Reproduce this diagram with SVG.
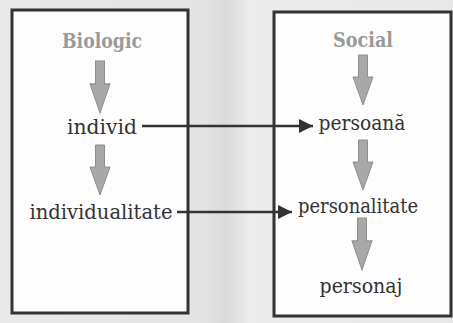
<svg xmlns="http://www.w3.org/2000/svg" width="453" height="323" viewBox="0 0 453 323">
<defs>
<linearGradient id="bg" x1="0" y1="0" x2="1" y2="0">
<stop offset="0" stop-color="#e9e9e9"/>
<stop offset="0.45" stop-color="#e4e4e4"/>
<stop offset="0.5" stop-color="#dadada"/>
<stop offset="0.55" stop-color="#ececec"/>
<stop offset="1" stop-color="#e8e8e8"/>
</linearGradient>
<marker id="ah" viewBox="0 0 10 10" refX="10" refY="5" markerWidth="14" markerHeight="14" markerUnits="userSpaceOnUse" orient="auto">
<path d="M0,0 L10,5 L0,10 Z" fill="#333"/>
</marker>
<path id="garrow" d="M-4.5,0 H4.5 V22 H10 L0,50 L-10,22 H-4.5 Z"/>
</defs>
<style>
.box{fill:#fdfdfd;stroke:#333;stroke-width:3}
text{font-family:'DejaVu Serif Condensed','DejaVu Serif',serif;text-anchor:middle}
.t{font-size:21px;fill:#333}
.h{font-size:20px;font-weight:bold;fill:#9a9a9a}
.ga{fill:#a8a8a8;stroke:#8e8e8e;stroke-width:1}
.conn{stroke:#333;stroke-width:2.5;fill:none}
</style>
<rect width="453" height="323" fill="url(#bg)"/>
<g id="box-biologic">
<rect class="box" x="12" y="10" width="176" height="303"/>
<text class="h" x="102" y="48" textLength="80" lengthAdjust="spacingAndGlyphs">Biologic</text>
<use href="#garrow" class="ga" transform="translate(100,61) scale(1,1.04)"/>
<text class="t" x="102" y="134" textLength="70" lengthAdjust="spacingAndGlyphs">individ</text>
<use href="#garrow" class="ga" transform="translate(100,145)"/>
<text class="t" x="101" y="219" textLength="143" lengthAdjust="spacingAndGlyphs">individualitate</text>
</g>
<g id="box-social">
<rect class="box" x="274" y="12" width="177" height="304"/>
<text class="h" x="363" y="47" textLength="60" lengthAdjust="spacingAndGlyphs">Social</text>
<use href="#garrow" class="ga" transform="translate(363,55)"/>
<text class="t" x="362" y="130" textLength="87" lengthAdjust="spacingAndGlyphs">persoană</text>
<use href="#garrow" class="ga" transform="translate(363,140)"/>
<text class="t" x="358" y="213" textLength="120" lengthAdjust="spacingAndGlyphs">personalitate</text>
<use href="#garrow" class="ga" transform="translate(362,218) scale(1,1.04)"/>
<text class="t" x="361" y="293" textLength="83" lengthAdjust="spacingAndGlyphs">personaj</text>
</g>
<g id="connectors">
<line class="conn" x1="142" y1="126" x2="313" y2="126" marker-end="url(#ah)"/>
<line class="conn" x1="177" y1="212" x2="292" y2="212" marker-end="url(#ah)"/>
</g>
</svg>
